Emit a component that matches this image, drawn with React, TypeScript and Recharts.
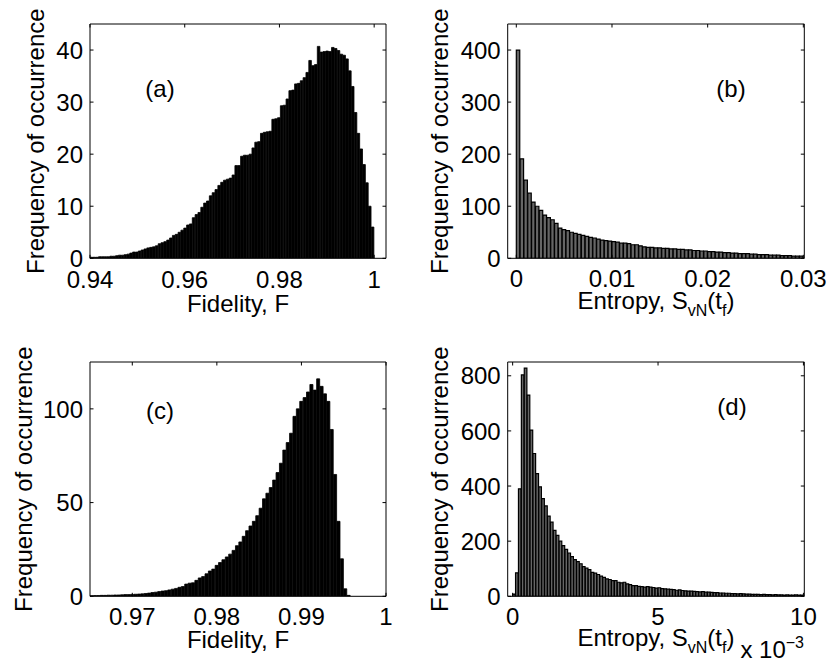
import React from 'react';
import { BarChart, Bar, XAxis, YAxis } from 'recharts';

const FONT = '"Liberation Sans", Arial, Helvetica, sans-serif';
const FS = 24;
const TICK_LEN = 3.5;

// (a) fidelity, first set: bins of 0.0006 from 0.94
const binStartA = 0.94;
const binWidthA = 0.0006;
const countsA = [
  0.2, 0.2, 0.2, 0.3, 0.3, 0.3, 0.3, 0.4, 0.4, 0.5,
  0.6, 0.6, 0.7, 0.8, 1.0, 1.2, 1.2, 1.4, 1.6, 1.8,
  2.0, 2.1, 2.2, 2.4, 2.8, 3.0, 3.2, 3.5, 3.9, 4.4,
  4.6, 5.0, 5.4, 5.8, 6.4, 6.6, 7.8, 8.4, 8.8, 9.8,
  10.6, 11.0, 12.0, 12.6, 13.2, 14.0, 14.6, 15.0, 15.2, 15.4,
  16.0, 17.8, 17.8, 19.6, 19.8, 19.8, 20.0, 21.2, 22.3, 22.4,
  24.0, 24.2, 24.3, 24.4, 26.7, 26.8, 27.0, 29.3, 29.4, 30.6,
  32.2, 32.3, 33.5, 33.6, 34.1, 34.7, 35.7, 38.0, 37.0, 37.2,
  40.7, 39.6, 39.7, 39.8, 39.7, 40.5, 40.3, 39.9, 39.2, 39.0,
  38.3, 36.0, 33.0, 28.0, 24.0, 21.0, 18.0, 14.5, 10.0, 6.0,
];
const xTicksA = [0.94, 0.96, 0.98, 1];
const yTicksA = [0, 10, 20, 30, 40];

// (b) entropy, first set: bins of 0.0004 from 0
const binStartB = 0;
const binWidthB = 0.0004;
const countsB = [
  400, 191, 150, 125, 108, 100, 92, 83, 78, 74,
  67, 58, 55, 53, 50, 48, 46, 44, 42, 40,
  39, 37, 35, 34, 33, 32, 31, 29, 29, 28,
  26, 26, 24, 22, 21, 21, 20, 20, 19, 19,
  18, 18, 17, 17, 16, 16, 15, 15, 14, 14,
  13, 13, 12, 12, 11, 11, 10, 10, 9, 9,
  9, 8, 8, 7, 7, 7, 6, 6, 6, 5,
  5, 5, 4, 4, 4,
];
const xTicksB = [0, 0.01, 0.02, 0.03];
const yTicksB = [0, 100, 200, 300, 400];

// (c) fidelity, second set: bins of 0.0004 from 0.965
const binStartC = 0.965;
const binWidthC = 0.0004;
const countsC = [
  0.3, 0.4, 0.4, 0.5, 0.5, 0.6, 0.6, 0.7, 0.7, 0.8,
  0.9, 0.9, 1.0, 1.1, 1.2, 1.3, 1.5, 1.7, 2.0, 2.2,
  2.5, 2.8, 3.0, 3.4, 3.8, 4.2, 4.8, 5.2, 6.5, 7.0,
  7.2, 8.5, 9.8, 10.5, 12.0, 13.5, 14.5, 16.5, 18.0, 19.5,
  21.0, 22.5, 24.5, 27.0, 29.0, 32.0, 35.0, 37.5, 40.0, 43.0,
  47.0, 52.0, 55.0, 58.0, 62.0, 66.0, 71.0, 78.0, 82.0, 87.0,
  96.0, 100.0, 104.0, 106.0, 109.0, 113.0, 110.0, 116.0, 112.0, 108.0,
  104.0, 89.0, 65.0, 40.0, 20.0, 4.0, 0.5,
];
const xTicksC = [0.97, 0.98, 0.99, 1];
const yTicksC = [0, 50, 100];

// (d) entropy, second set (x 10^-3): bins of 0.1 from 0
const binStartD = 0;
const binWidthD = 0.1;
const countsD = [
  8, 85, 390, 803, 828, 730, 603, 518, 445, 397,
  354, 328, 291, 269, 239, 221, 200, 184, 170, 157,
  144, 133, 126, 118, 108, 102, 97, 87, 84, 79,
  73, 69, 63, 61, 57, 57, 51, 49, 51, 45,
  42, 39, 39, 36, 35, 33, 35, 33, 32, 30,
  31, 28, 27, 26, 25, 24, 22, 23, 21, 20,
  19, 19, 18, 17, 16, 17, 15, 15, 14, 13,
  13, 12, 12, 11, 11, 10, 10, 9, 10, 9,
  8, 8, 7, 7, 7, 6, 7, 6, 6, 5,
  6, 5, 5, 4, 5, 4, 4, 5, 4, 4,
];
const xTicksD = [0, 5, 10];
const yTicksD = [0, 200, 400, 600, 800];

const toBins = (start: number, width: number, counts: number[]) =>
  counts.map((y, i) => ({ x: start + width * (i + 0.5), y }));

const BottomTick = (p: any) => (
  <g>
    <line x1={p.x} y1={p.y} x2={p.x} y2={p.y - TICK_LEN} stroke="#000" />
    <text x={p.x} y={p.y + p.dy} textAnchor="middle" fontFamily={FONT} fontSize={FS} fill="#000">
      {String(p.payload.value)}
    </text>
  </g>
);
const TopTick = (p: any) => <line x1={p.x} y1={p.y} x2={p.x} y2={p.y + TICK_LEN} stroke="#000" />;
const LeftTick = (p: any) => (
  <g>
    <line x1={p.x} y1={p.y} x2={p.x + TICK_LEN} y2={p.y} stroke="#000" />
    <text x={p.x - 7} y={p.y} dy="0.36em" textAnchor="end" fontFamily={FONT} fontSize={FS} fill="#000">
      {String(p.payload.value)}
    </text>
  </g>
);
const RightTick = (p: any) => <line x1={p.x} y1={p.y} x2={p.x - TICK_LEN} y2={p.y} stroke="#000" />;

type PanelProps = {
  left: number;
  top: number;
  width: number;
  height: number;
  plot: { l: number; t: number; r: number; b: number };
  data: { x: number; y: number }[];
  binWidth: number;
  xDomain: [number, number];
  xTicks: number[];
  yDomain: [number, number];
  yTicks: number[];
  fill: string;
  edge: number;
  tag: string;
  tagX: number;
  tagY: number;
  yLabelX: number;
  xTickDy: number;
  children?: React.ReactNode;
};

const Panel = (props: PanelProps) => {
  const { left, top, width, height, plot, data, binWidth, xDomain, xTicks, yDomain, yTicks } = props;
  const barSize = (binWidth * (plot.r - plot.l)) / (xDomain[1] - xDomain[0]);
  const axisLine = { stroke: '#000', strokeWidth: 1 };
  return (
    <div style={{ position: 'absolute', left, top, width, height }}>
      <BarChart
        width={width}
        height={height}
        data={data}
        margin={{ top: plot.t - 1, right: width - plot.r - 1, bottom: 0, left: 0 }}
        barCategoryGap={0}
        barGap={0}
      >
        <XAxis
          xAxisId="bottom"
          dataKey="x"
          type="number"
          domain={xDomain}
          ticks={xTicks}
          allowDataOverflow
          height={height - plot.b}
          interval={0}
          tickSize={0}
          tickMargin={0}
          tickLine={false}
          axisLine={axisLine}
          tick={(p: any) => <BottomTick {...p} dy={props.xTickDy} />}
        />
        <XAxis
          xAxisId="top"
          orientation="top"
          dataKey="x"
          type="number"
          domain={xDomain}
          ticks={xTicks}
          allowDataOverflow
          height={1}
          interval={0}
          tickSize={0}
          tickMargin={0}
          tickLine={false}
          axisLine={axisLine}
          tick={TopTick}
        />
        <YAxis
          yAxisId="left"
          type="number"
          domain={yDomain}
          ticks={yTicks}
          allowDataOverflow
          width={plot.l}
          interval={0}
          tickSize={0}
          tickMargin={0}
          tickLine={false}
          axisLine={axisLine}
          tick={LeftTick}
        />
        <YAxis
          yAxisId="right"
          orientation="right"
          type="number"
          domain={yDomain}
          ticks={yTicks}
          allowDataOverflow
          width={1}
          interval={0}
          tickSize={0}
          tickMargin={0}
          tickLine={false}
          axisLine={axisLine}
          tick={RightTick}
        />
        <Bar
          xAxisId="bottom"
          yAxisId="left"
          dataKey="y"
          barSize={barSize}
          fill={props.fill}
          stroke="#000"
          strokeWidth={props.edge}
          isAnimationActive={false}
        />
      </BarChart>
      <svg
        width={width}
        height={height}
        style={{ position: 'absolute', left: 0, top: 0, pointerEvents: 'none' }}
        fontFamily={FONT}
        fontSize={FS}
      >
        <text
          x={props.yLabelX}
          y={(plot.t + plot.b) / 2}
          textAnchor="middle"
          dy="0.36em"
          transform={`rotate(-90 ${props.yLabelX} ${(plot.t + plot.b) / 2})`}
          fill="#000"
        >
          Frequency of occurrence
        </text>
        <text x={props.tagX} y={props.tagY} dy="0.36em" textAnchor="middle" fill="#000">
          {props.tag}
        </text>
        {props.children}
      </svg>
    </div>
  );
};

const EntropyLabel = ({ x, y }: { x: number; y: number }) => (
  <text x={x} y={y} textAnchor="middle" fill="#000">
    <tspan>Entropy, S</tspan>
    <tspan fontSize={16} dy={7}>vN</tspan>
    <tspan dy={-7}>(t</tspan>
    <tspan fontSize={16} dy={7}>f</tspan>
    <tspan dy={-7}>)</tspan>
  </text>
);

export default function App() {
  return (
    <div style={{ position: 'absolute', left: 0, top: 0, width: 832, height: 667, background: '#fff' }}>
      <Panel
        left={0}
        top={0}
        width={416}
        height={333}
        plot={{ l: 90, t: 24, r: 386, b: 258.3 }}
        data={toBins(binStartA, binWidthA, countsA)}
        binWidth={binWidthA}
        xDomain={[0.94, 1.0025]}
        xTicks={xTicksA}
        yDomain={[0, 45]}
        yTicks={yTicksA}
        fill="#000"
        edge={0.8}
        tag="(a)"
        tagX={160}
        tagY={88}
        yLabelX={35}
        xTickDy={29.5}
      >
        <text x={238} y={312} textAnchor="middle" fill="#000">
          Fidelity, F
        </text>
      </Panel>
      <Panel
        left={416}
        top={0}
        width={416}
        height={333}
        plot={{ l: 91.7, t: 24, r: 388.3, b: 258.3 }}
        data={toBins(binStartB, binWidthB, countsB)}
        binWidth={binWidthB}
        xDomain={[-0.0009, 0.0301]}
        xTicks={xTicksB}
        yDomain={[0, 450]}
        yTicks={yTicksB}
        fill="#666"
        edge={1.2}
        tag="(b)"
        tagX={315}
        tagY={88}
        yLabelX={23}
        xTickDy={29}
      >
        <EntropyLabel x={240} y={309} />
      </Panel>
      <Panel
        left={0}
        top={333}
        width={416}
        height={334}
        plot={{ l: 90, t: 29, r: 386, b: 263.3 }}
        data={toBins(binStartC, binWidthC, countsC)}
        binWidth={binWidthC}
        xDomain={[0.965, 1.0]}
        xTicks={xTicksC}
        yDomain={[0, 125]}
        yTicks={yTicksC}
        fill="#000"
        edge={0.8}
        tag="(c)"
        tagX={160}
        tagY={77}
        yLabelX={23}
        xTickDy={28.5}
      >
        <text x={238} y={315} textAnchor="middle" fill="#000">
          Fidelity, F
        </text>
      </Panel>
      <Panel
        left={416}
        top={333}
        width={416}
        height={334}
        plot={{ l: 91.7, t: 29, r: 388.3, b: 263.3 }}
        data={toBins(binStartD, binWidthD, countsD)}
        binWidth={binWidthD}
        xDomain={[-0.17, 10.03]}
        xTicks={xTicksD}
        yDomain={[0, 850]}
        yTicks={yTicksD}
        fill="#666"
        edge={1.2}
        tag="(d)"
        tagX={316}
        tagY={73}
        yLabelX={23}
        xTickDy={28.5}
      >
        <EntropyLabel x={240} y={313} />
        <text x={388} y={325} textAnchor="end" fill="#000">
          <tspan>x 10</tspan>
          <tspan fontSize={16} dy={-10}>−3</tspan>
        </text>
      </Panel>
    </div>
  );
}
